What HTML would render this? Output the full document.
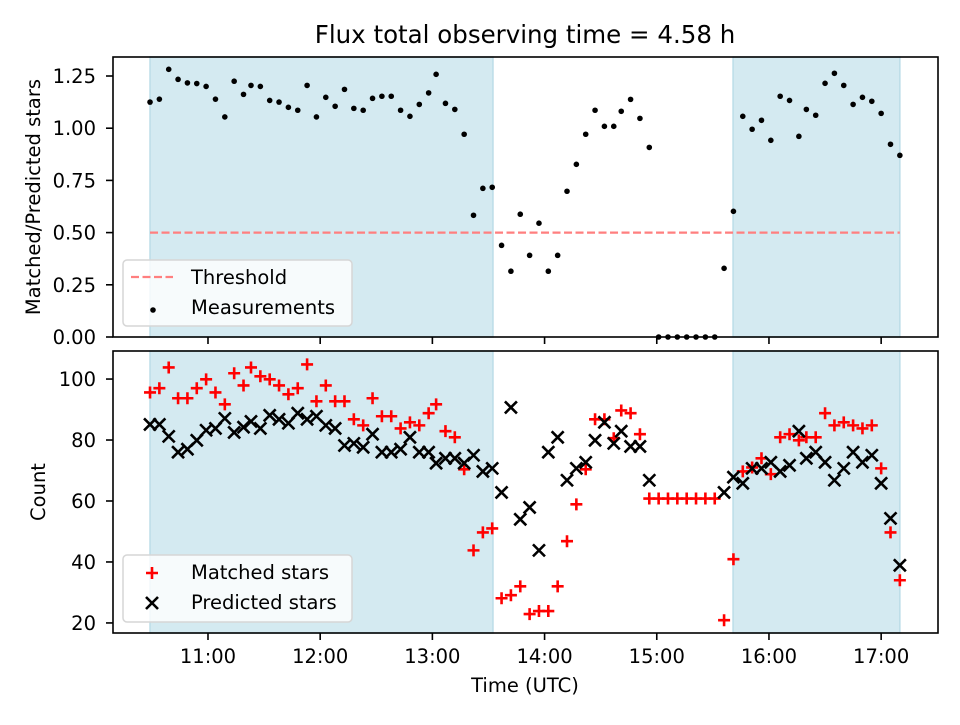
<!DOCTYPE html>
<html><head><meta charset="utf-8"><style>
body{margin:0;background:#fff;}
svg text{font-family:"DejaVu Sans","Liberation Sans",sans-serif;}
</style></head><body>
<svg id="chart" width="960" height="720" xmlns="http://www.w3.org/2000/svg">
<rect width="960" height="720" fill="#fff"/>
<text x="525" y="43" font-size="24.5" text-anchor="middle" fill="#000">Flux total observing time = 4.58 h</text>
<g id="topPanel"></g><g id="botPanel"></g>
</svg>
<script>
// minutes since 10:00
const times=[29,34,39,44,49,54,59,64,69,74,79,83,88,93,98,103,108,113,118,123,128,133,138,143,148,153,158,163,168,173,178,182,187,192,197,202,207,212,217,222,227,232,237,242,247,252,257,262,267,272,277,281,286,291,296,301,306,311,316,321,326,331,336,341,346,351,356,361,366,371,376,380,385,390,395,400,405,410,415,420,425,430];
const ratio=[1.125,1.139,1.282,1.234,1.217,1.214,1.20,1.139,1.054,1.225,1.162,1.205,1.20,1.133,1.125,1.10,1.086,1.205,1.054,1.148,1.105,1.186,1.095,1.086,1.143,1.153,1.153,1.086,1.057,1.114,
1.169,1.258,1.119,1.09,0.971,0.583,0.712,0.717,0.439,0.315,0.588,0.391,0.545,0.315,0.391,0.698,0.827,0.971,1.086,1.009,1.009,1.081,1.138,1.047,0.908,
0,0,0,0,0,0,0,
0.329,0.602,1.057,0.995,1.038,0.942,1.153,1.133,0.961,1.09,1.062,1.215,1.263,1.205,1.114,1.148,1.129,1.071,0.923,0.870];
const matched=[95.6,97,103.8,93.7,93.7,97,99.9,95.6,91.7,101.9,97.9,103.8,100.9,99.9,97.9,95,
97,104.8,92.7,97.9,92.7,92.7,86.8,84.8,93.7,87.8,87.8,83.8,85.8,84.8,
88.8,91.7,82.9,80.9,70.4,43.8,49.7,51,28.1,29.1,32,22.9,23.9,23.9,32,46.8,58.9,70.4,86.8,86.8,80.6,89.7,88.8,81.9,60.8,
60.8,60.8,60.8,60.8,60.8,60.8,60.8,
20.9,40.9,69.7,71,74,68.8,80.9,81.9,79.9,80.9,80.9,88.8,84.8,85.8,84.8,83.8,84.8,70.7,49.7,34];
const predicted=[85.1,85.1,81.2,76,77,79.9,83.2,83.8,87.1,82.5,84.2,86.1,83.8,88.1,86.8,85.5,
88.8,86.8,87.8,84.8,83.8,78.2,78.9,77.6,81.9,76,76,77,80.9,76,
76,72.4,74,74,72.4,75,69.7,70.7,62.8,90.7,54,57.9,43.8,76,80.9,66.8,70.7,72.7,79.9,85.8,78.9,82.9,77.9,77.9,66.8,
null,null,null,null,null,null,null,
62.8,67.8,65.8,70.7,70.7,72.7,69.7,71.7,82.9,74,76,72.7,66.8,70.7,76,72.7,75,65.8,54.3,38.9];
const spans=[[29,212.4],[340.8,430]];
const threshold=0.5;
const xTickMins=[60,120,180,240,300,360,420];
const xTickLabels=["11:00","12:00","13:00","14:00","15:00","16:00","17:00"];
const topTicks=[0,0.25,0.5,0.75,1.0,1.25];
const topTickLabels=["0.00","0.25","0.50","0.75","1.00","1.25"];
const botTicks=[20,40,60,80,100];

const NS="http://www.w3.org/2000/svg";
const L=113,R=938;
const xMin=9.2,xMax=450.4;
const FS=19.5;
const X=m=>L+(m-xMin)/(xMax-xMin)*(R-L);
const TA={top:57,bot:337,min:0,max:1.341};
const BA={top:351,bot:633,min:16.7,max:109.2};
const Y=(a,v)=>a.bot-(v-a.min)/(a.max-a.min)*(a.bot-a.top);
function mk(p,tag,at,txt){const e=document.createElementNS(NS,tag);for(const k in at)e.setAttribute(k,at[k]);if(txt!==undefined)e.textContent=txt;p.appendChild(e);return e;}
const gTop=document.getElementById('topPanel'),gBot=document.getElementById('botPanel');

function spansDraw(g,a){spans.forEach(s=>{
 const r=mk(g,'rect',{x:X(s[0]),y:a.top,width:X(s[1])-X(s[0]),height:a.bot-a.top,fill:'#d4eaf1',stroke:'#bcdde8','stroke-width':1.5});
 
 });}
function frame(g,a,showLabels){
 const f=mk(g,'rect',{x:L,y:a.top,width:R-L,height:a.bot-a.top,fill:'none',stroke:'#000','stroke-width':1.6});
 
 
 xTickMins.forEach((m,i)=>{mk(g,'line',{x1:X(m),x2:X(m),y1:a.bot,y2:a.bot+7,stroke:'#000','stroke-width':1.6});
  if(showLabels){const t=mk(g,'text',{x:X(m),y:a.bot+30,'font-size':FS,'text-anchor':'middle'},xTickLabels[i]);
  
  }});
}
// top panel
spansDraw(gTop,TA);
const thr=mk(gTop,'line',{x1:X(times[0]),x2:X(times[times.length-1]),y1:Y(TA,threshold),y2:Y(TA,threshold),stroke:'#ff7f7f','stroke-width':2.2,'stroke-dasharray':'8,3.5'});


ratio.forEach((v,i)=>{const c=mk(gTop,'circle',{cx:X(times[i]),cy:Y(TA,v),r:2.8,fill:'#000'});
 
 });
frame(gTop,TA,false);
topTicks.forEach((v,i)=>{mk(gTop,'line',{x1:L-7,x2:L,y1:Y(TA,v),y2:Y(TA,v),stroke:'#000','stroke-width':1.6});
 const t=mk(gTop,'text',{x:L-17,y:Y(TA,v)+7,'font-size':FS,'text-anchor':'end'},topTickLabels[i]);
 
 });
const yl1=mk(gTop,'text',{x:0,y:0,'font-size':FS,'text-anchor':'middle',transform:'translate(40,197) rotate(-90)'},'Matched/Predicted stars');


// bottom panel
spansDraw(gBot,BA);
function plus(g,x,y){mk(g,'path',{d:`M${x-6} ${y}H${x+6}M${x} ${y-6}V${y+6}`,stroke:'#f00','stroke-width':2.6,fill:'none'});}
function cross(g,x,y){mk(g,'path',{d:`M${x-6} ${y-6}L${x+6} ${y+6}M${x-6} ${y+6}L${x+6} ${y-6}`,stroke:'#000','stroke-width':2.6,fill:'none'});}
const gm=mk(gBot,'g',{});


const gp=mk(gBot,'g',{});


matched.forEach((v,i)=>{if(v!==null)plus(gm,X(times[i]),Y(BA,v));});
predicted.forEach((v,i)=>{if(v!==null)cross(gp,X(times[i]),Y(BA,v));});
frame(gBot,BA,true);
botTicks.forEach(v=>{mk(gBot,'line',{x1:L-7,x2:L,y1:Y(BA,v),y2:Y(BA,v),stroke:'#000','stroke-width':1.6});
 const t=mk(gBot,'text',{x:L-17,y:Y(BA,v)+7,'font-size':FS,'text-anchor':'end'},String(v));
 
 });
const yl2=mk(gBot,'text',{x:0,y:0,'font-size':FS,'text-anchor':'middle',transform:'translate(45,492) rotate(-90)'},'Count');


const xl=mk(gBot,'text',{x:525,y:692,'font-size':FS,'text-anchor':'middle'},'Time (UTC)');


// legends
const lg1=mk(gTop,'g',{});


mk(lg1,'rect',{x:123,y:260,width:229,height:66,rx:4,fill:'#fff','fill-opacity':0.8,stroke:'#d6d6d6','stroke-width':1.5});
mk(lg1,'line',{x1:131,x2:173,y1:277,y2:277,stroke:'#ff7f7f','stroke-width':2.2,'stroke-dasharray':'8,3.5'});
mk(lg1,'text',{x:191,y:284,'font-size':FS},'Threshold');
mk(lg1,'circle',{cx:153,cy:310,r:2.8,fill:'#000'});
mk(lg1,'text',{x:191,y:314,'font-size':FS},'Measurements');
const lg2=mk(gBot,'g',{});


mk(lg2,'rect',{x:123,y:555,width:229,height:67,rx:4,fill:'#fff','fill-opacity':0.8,stroke:'#d6d6d6','stroke-width':1.5});
plus(lg2,152,573);
mk(lg2,'text',{x:191,y:579,'font-size':FS},'Matched stars');
cross(lg2,152,603);
mk(lg2,'text',{x:191,y:609,'font-size':FS},'Predicted stars');
</script>
</body></html>
